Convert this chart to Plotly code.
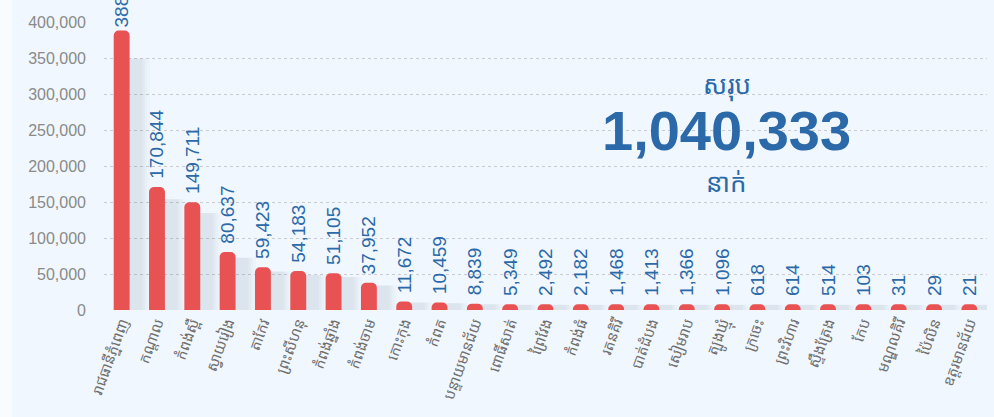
import plotly.graph_objects as go

provinces = ["រាជធានីភ្នំពេញ", "កណ្ដាល", "កំពង់ស្ពឺ", "ស្វាយរៀង", "តាកែវ", "ព្រះសីហនុ",
             "កំពង់ឆ្នាំង", "កំពង់ចាម", "កោះកុង", "កំពត", "បន្ទាយមានជ័យ", "ពោធិ៍សាត់",
             "ព្រៃវែង", "កំពង់ធំ", "រតនគិរី", "បាត់ដំបង", "សៀមរាប", "ត្បូងឃ្មុំ",
             "ក្រចេះ", "ព្រះវិហារ", "ស្ទឹងត្រែង", "កែប", "មណ្ឌលគិរី", "ប៉ៃលិន", "ឧត្ដរមានជ័យ"]
counts = [388212, 170844, 149711, 80637, 59423, 54183, 51105, 37952, 11672, 10459,
          8839, 5349, 2492, 2182, 1468, 1413, 1366, 1096, 618, 614, 514, 103, 31, 29, 21]
y_ticks = [0, 50000, 100000, 150000, 200000, 250000, 300000, 350000, 400000]

total = sum(counts)
min_len = 8000  # minimum visible bar length (style)
shown = [max(v, min_len) for v in counts]
labels = [("" if v == max(counts) else "\u00a0") + f"{v:,}" for v in counts]

BLUE = "#2b69a8"
KHMER = "Noto Sans Khmer, Khmer OS, sans-serif"
fig = go.Figure()

# soft blurred shadow layers
for w, off, op in [(0.85, -0.05, 0.018), (0.72, 0.0, 0.022), (0.6, 0.06, 0.026), (0.45, 0.14, 0.03)]:
    fig.add_trace(go.Bar(x=provinces, y=[v * 0.9 for v in shown], width=w, offset=off,
                         marker=dict(color=f"rgba(60,70,90,{op})", line=dict(width=0)),
                         hoverinfo="skip", showlegend=False))

fig.add_trace(go.Bar(
    x=provinces, y=shown, width=0.45,
    marker=dict(color="#e85252", cornerradius=5, line=dict(width=0)),
    text=labels, textposition="outside", textangle=-90,
    constraintext="none",
    textfont=dict(family="Liberation Sans, Arial, sans-serif", size=19, color=BLUE),
    cliponaxis=False, showlegend=False,
    customdata=counts, hovertemplate="%{x}: %{customdata:,}<extra></extra>"))

fig.add_annotation(x=0.705, y=0.855, xref="paper", yref="paper", xanchor="center", text="សរុប",
                   showarrow=False, font=dict(size=26, color=BLUE, family=KHMER))
fig.add_annotation(x=0.705, y=0.625, xref="paper", yref="paper", xanchor="center",
                   text=f"<b>{total:,}</b>", showarrow=False,
                   font=dict(size=56, color=BLUE, family="Liberation Sans, Arial, sans-serif"))
fig.add_annotation(x=0.705, y=0.445, xref="paper", yref="paper", xanchor="center", text="នាក់",
                   showarrow=False, font=dict(size=26, color=BLUE, family=KHMER))

fig.add_shape(type="rect", xref="paper", yref="paper", x0=-0.2, x1=-(104 - 12) / 883, y0=-2, y1=2,
              fillcolor="#f9fcff", line=dict(width=0), layer="below")

fig.update_layout(
    width=994, height=417, barmode="overlay",
    margin=dict(l=104, r=7, t=22, b=107),
    paper_bgcolor="#f0f7fe", plot_bgcolor="rgba(0,0,0,0)",
    font=dict(family="Liberation Sans, Arial, sans-serif"),
    xaxis=dict(range=[-0.5, len(provinces) - 0.5], tickangle=-70,
               tickfont=dict(size=15, color="#707070", family=KHMER),
               showgrid=False, zeroline=False, showline=False, ticks=""),
    yaxis=dict(range=[0, 400000], tickvals=y_ticks, tickformat=",",
               tickfont=dict(size=16, color="#8a8a8a"), ticklabelstandoff=17,
               gridcolor="#c8ccd2", griddash="dot", gridwidth=1, zeroline=False),
)

fig.write_html("out.html", config={"displayModeBar": False},
               post_script="document.body.style.margin='0px';")
